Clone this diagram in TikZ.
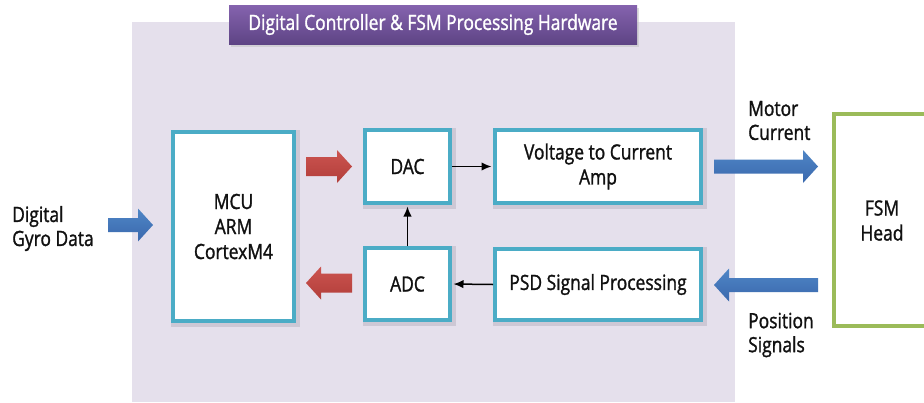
\documentclass[tikz,border=0pt]{standalone}
\usepackage{fontspec}
\setmainfont{Open Sans}[FakeStretch=0.83, FakeBold=1.3]
\usetikzlibrary{arrows.meta,calc}
\definecolor{lav}{HTML}{E5E0EC}
\definecolor{tealb}{HTML}{4BACC6}
\definecolor{greenb}{HTML}{9BBB59}
\definecolor{blueL}{HTML}{4F86C6}
\definecolor{blueD}{HTML}{3A68AD}
\definecolor{redL}{HTML}{CC5450}
\definecolor{redD}{HTML}{B23E3A}
\definecolor{purL}{HTML}{8563AE}
\definecolor{purD}{HTML}{5E4485}
\definecolor{txt}{HTML}{111111}
\definecolor{shad}{HTML}{BDB8C6}
\newcommand\harrow[4]{%
  \path[#4] let \p1=#1, \p2=#2, \n1={ifthenelse(\x2>\x1,1,-1)} in
    (\x1,\y1+#3) -- ({\x2-\n1*15pt},\y1+#3) -- ({\x2-\n1*15pt},\y1+16.5pt)
    -- (\x2,\y1) -- ({\x2-\n1*15pt},\y1-16.5pt) -- ({\x2-\n1*15pt},\y1-#3)
    -- (\x1,\y1-#3) -- cycle;}
\begin{document}
\begin{tikzpicture}[x=1pt,y=-1pt,
  font=\fontsize{21}{25}\selectfont, text=txt,
  blk/.style={draw=tealb, line width=4pt, fill=white, inner sep=0pt, align=center},
  lbl/.style={inner sep=0pt, align=left, anchor=west, font=\fontsize{21}{24}\selectfont},
  thin/.style={-{Latex[length=10pt,width=8.5pt]}, line width=1.5pt, black, shorten >=1.5pt},
  bluearr/.style={top color=blueL, bottom color=blueD},
  redarr/.style={top color=redL, bottom color=redD}]
\clip (0,0) rectangle (924,402);
\fill[white] (0,0) rectangle (924,402);
\fill[lav] (132,22) rectangle (735,402);
\fill[black!25, opacity=0.5] (231,8) rectangle (639,47);
\node[top color=purL, bottom color=purD, minimum width=408pt, minimum height=39pt,
      inner sep=0pt, text=white] (title) at (433,24.5)
      {Digital Controller \& FSM Processing Hardware};
% soft shadows under boxes
\foreach \a/\b/\c/\d in {169/128/300/327, 361/126/456/209, 491/126/707/209, 361/244/456/326, 491/245/707/326}
  \fill[shad, opacity=0.6] (\a+2,\b+2) rectangle (\c,\d);
\node[blk, minimum width=121pt, minimum height=189pt] (mcu) at (233.5,226.5) {MCU\\ARM\\CortexM4};
\node[blk, minimum width=85pt, minimum height=73pt] (dac) at (407.5,166.5) {DAC};
\node[blk, minimum width=206pt, minimum height=73pt] (vi) at (598,166.5) {Voltage to Current\\Amp};
\node[blk, minimum width=85pt, minimum height=72pt] (adc) at (407.5,284) {ADC};
\node[blk, minimum width=206pt, minimum height=71pt] (psd) at (598,284.5) {PSD Signal Processing};
\node[draw=greenb, line width=4pt, fill=white, inner sep=0pt, minimum width=100pt,
      minimum height=212pt] (fsm) at (884,220) {};
\node[align=center, inner sep=0pt] (fsmt) at (882,220.5) {FSM\\Head};
\node[lbl] (gyro) at (12,228.5) {Digital\\Gyro Data};
\node[lbl] (motor) at (748,120.5) {Motor\\Current};
\node[lbl] (pos) at (748,335) {Position\\Signals};
\draw[thin] (dac.east) -- (vi.west);
\draw[thin] (adc.north) -- (dac.south);
\draw[thin] (psd.west) -- (adc.east);
\harrow{($(mcu.west)+(-63,-1.5)$)}{($(mcu.west)+(-18,-1.5)$)}{7pt}{bluearr}
\harrow{($(dac.west)+(-57,0)$)}{($(dac.west)+(-11,0)$)}{9.5pt}{redarr}
\harrow{($(adc.west)+(-11,-1)$)}{($(adc.west)+(-57,-1)$)}{9.5pt}{redarr}
\harrow{($(vi.east)+(11,0)$)}{($(fsm.west)+(-14,-53.5)$)}{7pt}{bluearr}
\harrow{($(fsm.west)+(-14,65)$)}{($(psd.east)+(11,0.5)$)}{7pt}{bluearr}
\end{tikzpicture}
\end{document}
